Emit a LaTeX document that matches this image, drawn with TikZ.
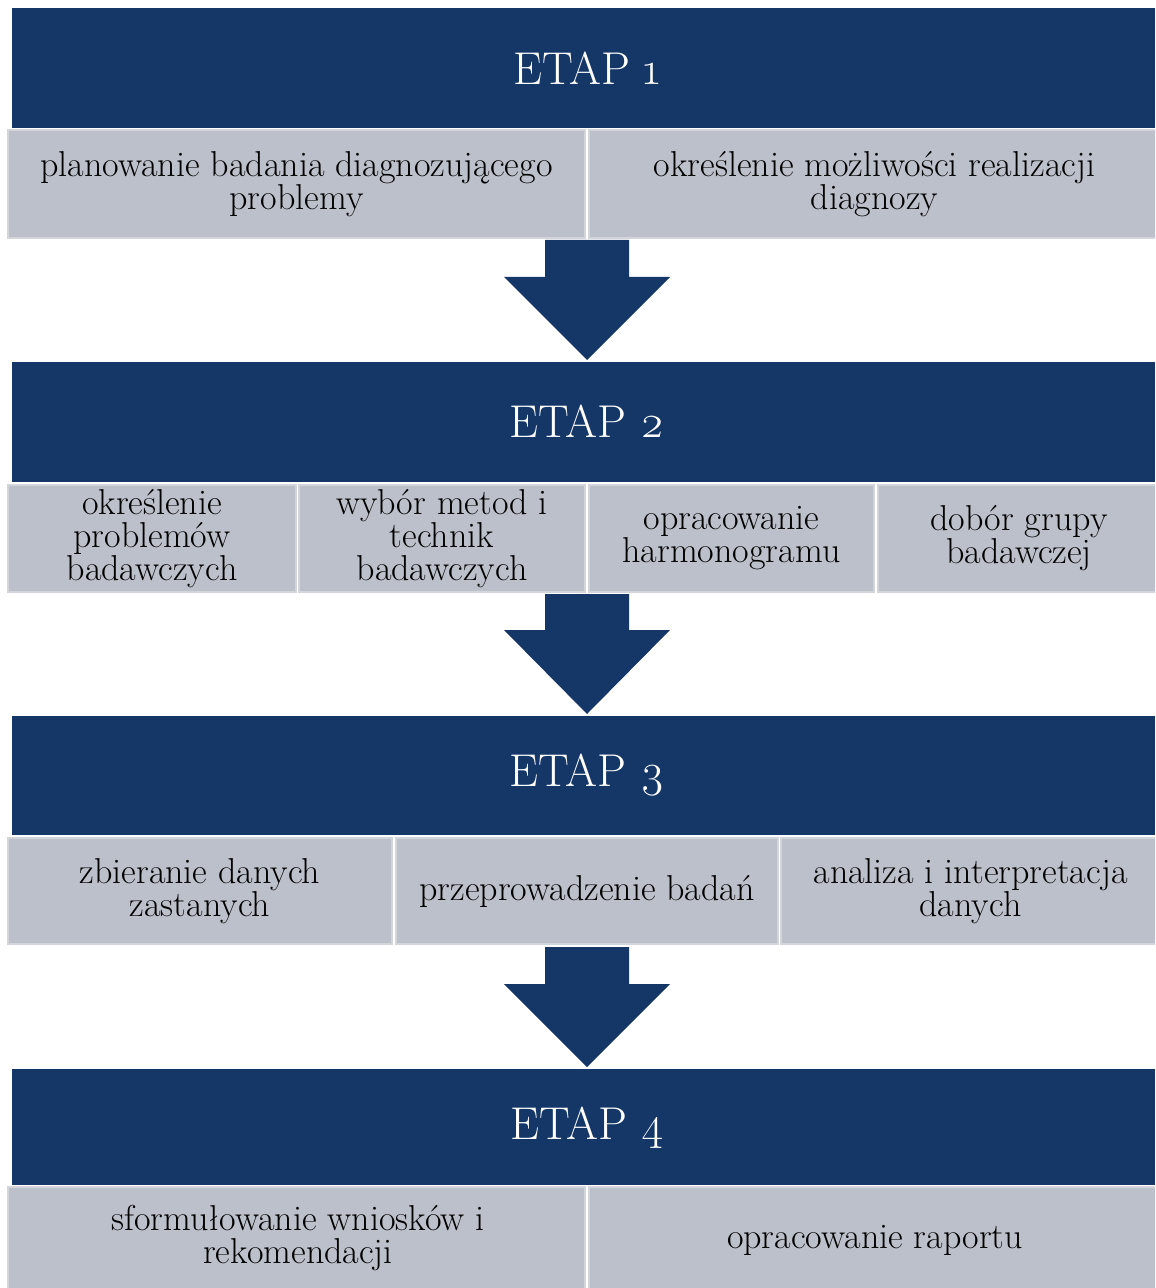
\documentclass[tikz,border=0pt]{standalone}
\usepackage{fontspec}
\setmainfont{Latin Modern Roman}
\definecolor{navy}{HTML}{143768}
\definecolor{cell}{HTML}{BCC0CA}
\definecolor{celledge}{HTML}{D2D5DA}
\begin{document}
\begin{tikzpicture}[x=0.5pt,y=-0.5pt,
  banner/.style={fill=navy, draw=none, inner sep=0pt},
  etap/.style={text=white, font=\fontsize{23}{28}\selectfont},
  cellbox/.style={fill=cell, draw=celledge, line width=1.2pt, inner sep=0pt,
    align=center, text=black, font=\fontsize{18}{16.5}\selectfont},
  celltext/.style={align=center, text=black, font=\fontsize{18}{16.5}\selectfont},
  arrowshape/.style={fill=navy, draw=none}]
\useasboundingbox (0,0) rectangle (1155,1288);
\clip (0,0) rectangle (1155,1288);

% ---- stage 1
\node[banner, minimum width=571.5pt, minimum height=60pt] (b1) at (583.5,68) {};
\node[etap] (t1) at (587,68) {ETAP \oldstylenums{1}};
\node[cellbox, minimum width=288.5pt, minimum height=54pt] (c11) at (296.5,184)
  {planowanie badania diagnozującego\\problemy};
\node[cellbox, minimum width=285.5pt, minimum height=54pt] (c12) at (874.5,184)
  {określenie możliwości realizacji\\diagnozy};

% ---- arrow 1
\coordinate (a1) at (587,240);
\fill[arrowshape] ([xshift=-21pt]a1) -- ([xshift=21pt]a1) -- ([xshift=21pt,yshift=-18.5pt]a1)
  -- ([xshift=41.5pt,yshift=-18.5pt]a1) -- ([yshift=-60pt]a1) -- ([xshift=-41.5pt,yshift=-18.5pt]a1)
  -- ([xshift=-21pt,yshift=-18.5pt]a1) -- cycle;

% ---- stage 2
\node[banner, minimum width=571.5pt, minimum height=60pt] (b2) at (583.5,422) {};
\node[etap] (t2) at (587,421) {ETAP \oldstylenums{2}};
\node[cellbox, minimum width=144pt, minimum height=53.5pt] (c21) at (152,538.5)
  {określenie\\problemów\\badawczych};
\node[cellbox, minimum width=143pt, minimum height=53.5pt] (c22) at (442,538.5)
  {wybór metod i\\technik\\badawczych};
\node[cellbox, minimum width=142.5pt, minimum height=53.5pt] (c23) at (731.5,538.5)
  {opracowanie\\harmonogramu};
\node[cellbox, minimum width=141pt, minimum height=53.5pt] (c24) at (1019,538.5)
  {dobór grupy\\badawczej};

% ---- arrow 2
\coordinate (a2) at (587,594);
\fill[arrowshape] ([xshift=-21pt]a2) -- ([xshift=21pt]a2) -- ([xshift=21pt,yshift=-18pt]a2)
  -- ([xshift=41.5pt,yshift=-18pt]a2) -- ([yshift=-60pt]a2) -- ([xshift=-41.5pt,yshift=-18pt]a2)
  -- ([xshift=-21pt,yshift=-18pt]a2) -- cycle;

% ---- stage 3
\node[banner, minimum width=571.5pt, minimum height=59.5pt] (b3) at (583.5,775.5) {};
\node[etap] (t3) at (587,775) {ETAP \oldstylenums{3}};
\node[cellbox, minimum width=192pt, minimum height=53pt] (c31) at (200,891)
  {zbieranie danych\\zastanych};
\node[cellbox, minimum width=191pt, minimum height=53pt] (c32) at (587,891)
  {przeprowadzenie badań};
\node[cellbox, minimum width=189.5pt, minimum height=53pt] (c33) at (970.5,891)
  {analiza i interpretacja\\danych};

% ---- arrow 3
\coordinate (a3) at (587,947);
\fill[arrowshape] ([xshift=-21pt]a3) -- ([xshift=21pt]a3) -- ([xshift=21pt,yshift=-18.5pt]a3)
  -- ([xshift=41.5pt,yshift=-18.5pt]a3) -- ([yshift=-60pt]a3) -- ([xshift=-41.5pt,yshift=-18.5pt]a3)
  -- ([xshift=-21pt,yshift=-18.5pt]a3) -- cycle;

% ---- stage 4
\node[banner, minimum width=571.5pt, minimum height=58pt] (b4) at (583.5,1127) {};
\node[etap] (t4) at (587,1128) {ETAP \oldstylenums{4}};
\node[cellbox, minimum width=288.5pt, minimum height=54pt] (c41) at (296.5,1241) {};
\node[cellbox, minimum width=285.5pt, minimum height=54pt] (c42) at (874.5,1241) {};
\node[celltext] (l41) at (298,1238) {sformułowanie wniosków i\\rekomendacji};
\node[celltext] (l42) at (875,1240) {opracowanie raportu};
\end{tikzpicture}
\end{document}
